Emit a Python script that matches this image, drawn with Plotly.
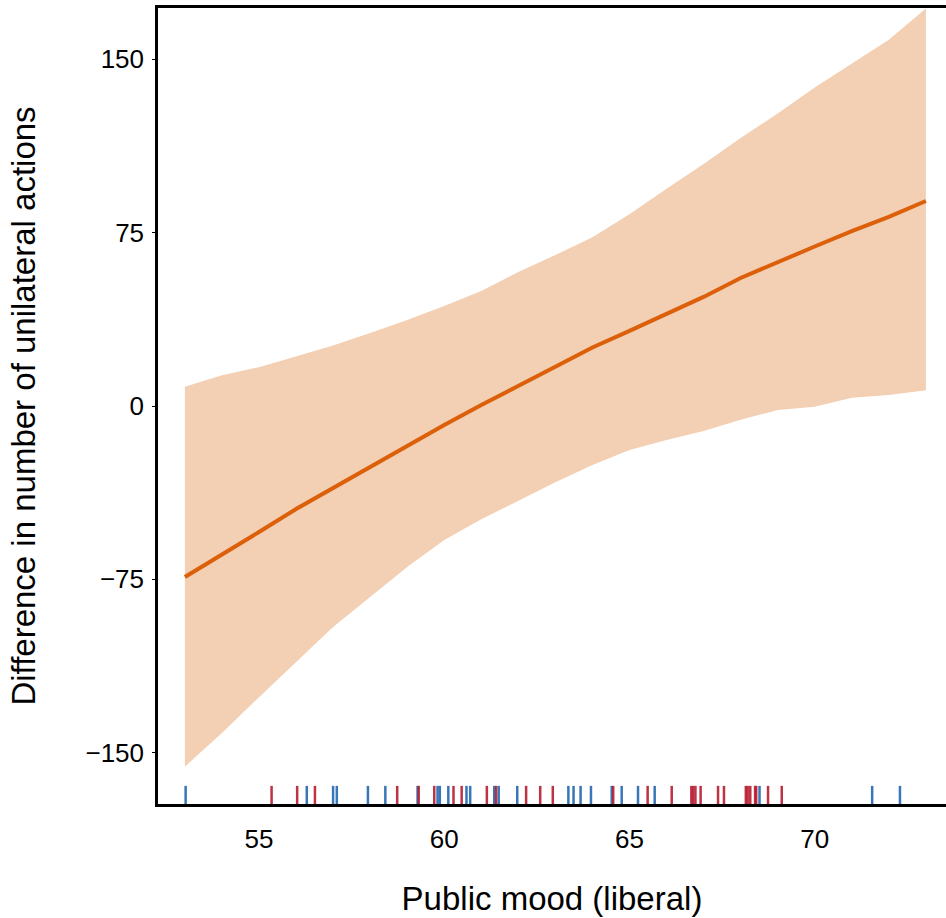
import plotly.graph_objects as go

# Predicted difference in number of unilateral actions by public mood
mood = [53, 54, 55, 56, 57, 58, 59, 60, 61, 62, 63, 64, 65, 66, 67, 68, 69, 70, 71, 72, 73]
estimate = [-74, -64, -54.5, -44.6, -35.5, -26.5, -17.3, -8.2, 0.4, 8.8, 17.2, 25.3, 32.5, 39.8, 47.2, 55.4, 62.0, 69.0, 75.7, 81.8, 88.7]
upper = [8.3, 13.3, 16.8, 21.6, 26.2, 31.6, 37.2, 43.3, 49.8, 58.0, 65.3, 73.0, 83.0, 94.0, 104.7, 116.0, 126.5, 137.8, 148.0, 158.5, 172.0]
lower = [-156, -141.5, -126, -111, -95.6, -82.6, -69.7, -58, -49, -41, -33, -25.5, -19, -14.7, -10.8, -6, -1.7, -0.3, 3.6, 4.8, 6.8]

# Rug: observed public mood values, coloured by party
rug_blue = [53.02, 56.29, 57.0, 57.10, 57.94, 58.41, 59.28, 59.82, 59.88, 60.11, 60.60, 60.70,
            61.35, 61.47, 61.97, 63.35, 63.49, 63.68, 63.96, 64.52, 64.79, 65.23, 65.68, 68.51,
            71.55, 72.30]
rug_red = [55.34, 56.03, 56.51, 58.73, 59.31, 59.73, 60.25, 60.47, 61.15, 61.40, 62.21, 62.59,
           62.93, 64.56, 65.49, 66.14, 66.67, 66.72, 66.78, 66.92, 67.39, 67.55, 68.14, 68.19,
           68.26, 68.39, 68.42, 68.74, 69.11]
rug_level = -169.2

x_ticks = [55, 60, 65, 70]
y_ticks = [-150, -75, 0, 75, 150]
x_title = "Public mood (liberal)"
y_title = "Difference in number of unilateral actions"

FONT = "Liberation Sans, Arial, sans-serif"

fig = go.Figure()
fig.add_trace(go.Scatter(x=mood, y=lower, mode="lines", line=dict(width=0, color="rgba(0,0,0,0)"),
                         showlegend=False, hoverinfo="skip"))
fig.add_trace(go.Scatter(x=mood, y=upper, mode="lines", line=dict(width=0, color="rgba(0,0,0,0)"),
                         fill="tonexty", fillcolor="#f3cfb3", showlegend=False, hoverinfo="skip"))
fig.add_trace(go.Scatter(x=mood, y=estimate, mode="lines", line=dict(width=4, color="#dc5f0a"),
                         showlegend=False))
fig.add_trace(go.Scatter(x=rug_blue, y=[rug_level] * len(rug_blue), mode="markers",
                         marker=dict(symbol="line-ns", size=16, opacity=0.9,
                                     line=dict(width=2.5, color="#2468b0")),
                         showlegend=False))
fig.add_trace(go.Scatter(x=rug_red, y=[rug_level] * len(rug_red), mode="markers",
                         marker=dict(symbol="line-ns", size=16, opacity=0.9,
                                     line=dict(width=2.5, color="#b71c30")),
                         showlegend=False))

fig.update_layout(
    width=946, height=918,
    margin=dict(l=158, r=0, t=8, b=114),
    paper_bgcolor="white", plot_bgcolor="white",
    font=dict(family=FONT, size=26, color="black"),
    xaxis=dict(range=[52.274, 73.543], tickvals=x_ticks, ticks="", showgrid=False, zeroline=False,
               showline=True, linecolor="black", linewidth=2.5, mirror=True,
               ticklabelstandoff=10,
               title=dict(text=x_title, font=dict(size=33), standoff=34)),
    yaxis=dict(range=[-172.2, 172.2], tickvals=y_ticks, ticks="outside", ticklen=3, tickwidth=1,
               tickcolor="black", showgrid=False, zeroline=False,
               showline=True, linecolor="black", linewidth=2.5, mirror=False,
               ticklabelstandoff=3,
               title=dict(text=y_title, font=dict(size=33), standoff=40)),
)

fig.write_html("out.html", config={"displayModeBar": False},
               post_script="document.body.style.margin='0px';")
